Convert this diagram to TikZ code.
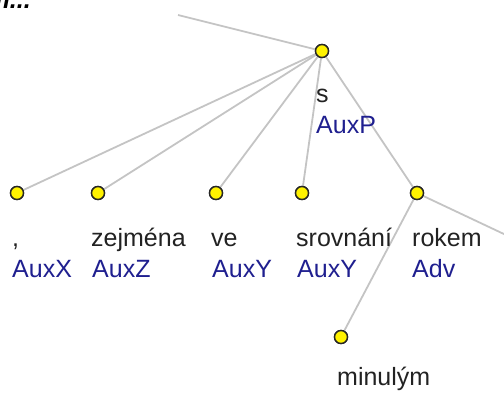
\documentclass[tikz,border=0pt]{standalone}
\usepackage{fontspec}
\setmainfont{Liberation Sans}
\definecolor{edgegray}{HTML}{C4C4C4}
\definecolor{tagblue}{HTML}{1F1F8F}
\definecolor{wordblack}{HTML}{222222}
\tikzset{
  dot/.style={circle, draw=black!85, fill=yellow, line width=1.4pt, minimum size=13pt, inner sep=0pt},
  edge/.style={draw=edgegray, line width=1.8pt},
  word/.style={anchor=base west, inner sep=0pt, text=wordblack, font=\fontsize{25}{30}\selectfont},
  tag/.style={anchor=base west, inner sep=0pt, text=tagblue, font=\fontsize{25}{30}\selectfont}
}
\begin{document}
\begin{tikzpicture}[x=1pt,y=-1pt]
    \useasboundingbox (0,0) rectangle (504,392);
    \clip (0,0) rectangle (504,392);

    % Cut title at the top
    \node[anchor=base east, inner sep=0pt, font=\fontsize{25}{30}\selectfont\bfseries\itshape] (title) at (31,8) {m...};

    % Nodes of the tree
    \node[dot] (s) at (322,51) {};
    \node[dot] (comma) at (17,193) {};
    \node[dot] (zejmena) at (98,193) {};
    \node[dot] (ve) at (216,193) {};
    \node[dot] (srovnani) at (302,193) {};
    \node[dot] (rokem) at (417,193) {};
    \node[dot] (minulym) at (341,337) {};

    % Loose ends leaving the picture
    \coordinate (up) at (178,15);
    \coordinate (right) at (506,235);

    % Edges
    \draw[edge] (s) -- (up);
    \draw[edge] (s) -- (comma);
    \draw[edge] (s) -- (zejmena);
    \draw[edge] (s) -- (ve);
    \draw[edge] (s) -- (srovnani);
    \draw[edge] (s) -- (rokem);
    \draw[edge] (rokem) -- (minulym);
    \draw[edge] (rokem) -- (right);

    % Redraw dots over the edges
    \foreach \n in {s,comma,zejmena,ve,srovnani,rokem,minulym}
        \node[dot] at (\n) {};

    % Labels
    \node[word] (s-w) at (316,102) {s};
    \node[tag] (s-t) at (316,133) {AuxP};

    \node[word] (comma-w) at (12,246) {,};
    \node[tag] (comma-t) at (12,277) {AuxX};
    \node[word] (zejmena-w) at (91,246) {zejména};
    \node[tag] (zejmena-t) at (92,277) {AuxZ};
    \node[word] (ve-w) at (211,246) {ve};
    \node[tag] (ve-t) at (212,277) {AuxY};
    \node[word] (srovnani-w) at (296,246) {srovnání};
    \node[tag] (srovnani-t) at (297,277) {AuxY};
    \node[word] (rokem-w) at (412,246) {rokem};
    \node[tag] (rokem-t) at (412,277) {Adv};
    \node[word] (minulym-w) at (337,385) {minulým};

\end{tikzpicture}
\end{document}
